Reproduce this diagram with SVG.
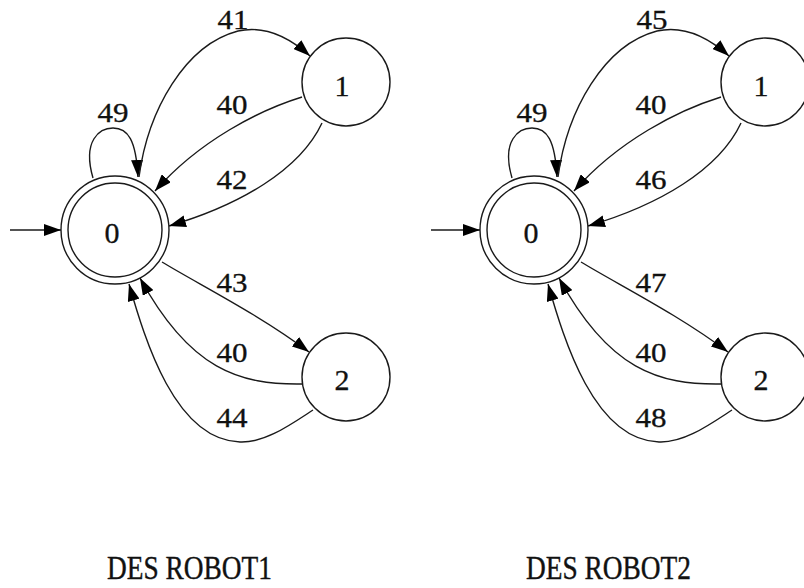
<svg xmlns="http://www.w3.org/2000/svg" width="804" height="588" viewBox="0 0 804 588">
<style>
.edge{fill:none;stroke:#1a1a1a;stroke-width:1.4;marker-end:url(#arr)}
.node{fill:none;stroke:#1a1a1a;stroke-width:1.4}
.lbl{font-family:"Liberation Serif","Times New Roman",serif;font-size:27px;fill:#111;stroke:#111;stroke-width:0.3;text-anchor:middle}
.nlbl{font-family:"Liberation Serif","Times New Roman",serif;font-size:30px;fill:#111;stroke:#111;stroke-width:0.3;text-anchor:middle}
.title{font-family:"Liberation Serif","Times New Roman",serif;font-size:33px;fill:#111;stroke:#111;stroke-width:0.4}
</style>
<defs>
<marker id="arr" markerUnits="userSpaceOnUse" markerWidth="17" markerHeight="12" refX="17" refY="6" orient="auto">
<path d="M0,0 L17,6 L0,12 z" fill="#000"/>
</marker>
</defs>
<rect width="804" height="588" fill="#fff"/>

<g id="robot1">
  <g id="connectors1">
    <path class="edge" d="M10,230 L61,230"/>
    <path class="edge" d="M93,178 C82,140 100,128 113,128 C128,128 136,140 138,177"/>
    <path class="edge" d="M139,177 C148,110 185,45 238,31 C265,25 290,38 310,56"/>
    <path class="edge" d="M302,97 C260,110 200,140 155,191"/>
    <path class="edge" d="M322,123 C300,170 240,205 169,226"/>
    <path class="edge" d="M162,262 C200,285 260,315 309,352"/>
    <path class="edge" d="M302,384 C240,385 190,370 140,278"/>
    <path class="edge" d="M313,410 C290,425 265,443 240,442 C175,440 145,340 129,284"/>
    <text class="lbl" x="233" y="29" textLength="31" lengthAdjust="spacingAndGlyphs">41</text>
    <text class="lbl" x="113" y="122" textLength="31" lengthAdjust="spacingAndGlyphs">49</text>
    <text class="lbl" x="232" y="114" textLength="31" lengthAdjust="spacingAndGlyphs">40</text>
    <text class="lbl" x="232" y="189" textLength="31" lengthAdjust="spacingAndGlyphs">42</text>
    <text class="lbl" x="232" y="292" textLength="31" lengthAdjust="spacingAndGlyphs">43</text>
    <text class="lbl" x="232" y="362" textLength="31" lengthAdjust="spacingAndGlyphs">40</text>
    <text class="lbl" x="232" y="427" textLength="31" lengthAdjust="spacingAndGlyphs">44</text>
  </g>
  <g id="r1-node0">
    <circle class="node" cx="115" cy="230" r="54"/>
    <circle class="node" cx="115" cy="230" r="47"/>
    <text class="nlbl" x="112" y="243">0</text>
  </g>
  <g id="r1-node1">
    <circle class="node" cx="346" cy="82" r="44"/>
    <text class="nlbl" x="342" y="96">1</text>
  </g>
  <g id="r1-node2">
    <circle class="node" cx="346" cy="377" r="44"/>
    <text class="nlbl" x="342" y="390">2</text>
  </g>
  <text class="title" x="107" y="579" textLength="165" lengthAdjust="spacingAndGlyphs">DES ROBOT1</text>
</g>

<g id="robot2" transform="translate(419,0)">
  <g id="connectors2">
    <path class="edge" d="M12,230 L61,230"/>
    <path class="edge" d="M93,178 C82,140 100,128 113,128 C128,128 136,140 138,177"/>
    <path class="edge" d="M139,177 C148,110 185,45 238,31 C265,25 290,38 310,56"/>
    <path class="edge" d="M302,97 C260,110 200,140 155,191"/>
    <path class="edge" d="M322,123 C300,170 240,205 169,226"/>
    <path class="edge" d="M162,262 C200,285 260,315 309,352"/>
    <path class="edge" d="M302,384 C240,385 190,370 140,278"/>
    <path class="edge" d="M313,410 C290,425 265,443 240,442 C175,440 145,340 129,284"/>
    <text class="lbl" x="233" y="29" textLength="31" lengthAdjust="spacingAndGlyphs">45</text>
    <text class="lbl" x="113" y="122" textLength="31" lengthAdjust="spacingAndGlyphs">49</text>
    <text class="lbl" x="232" y="114" textLength="31" lengthAdjust="spacingAndGlyphs">40</text>
    <text class="lbl" x="232" y="189" textLength="31" lengthAdjust="spacingAndGlyphs">46</text>
    <text class="lbl" x="232" y="292" textLength="31" lengthAdjust="spacingAndGlyphs">47</text>
    <text class="lbl" x="232" y="362" textLength="31" lengthAdjust="spacingAndGlyphs">40</text>
    <text class="lbl" x="232" y="427" textLength="31" lengthAdjust="spacingAndGlyphs">48</text>
  </g>
  <g id="r2-node0">
    <circle class="node" cx="115" cy="230" r="54"/>
    <circle class="node" cx="115" cy="230" r="47"/>
    <text class="nlbl" x="112" y="243">0</text>
  </g>
  <g id="r2-node1">
    <circle class="node" cx="346" cy="82" r="44"/>
    <text class="nlbl" x="342" y="96">1</text>
  </g>
  <g id="r2-node2">
    <circle class="node" cx="346" cy="377" r="44"/>
    <text class="nlbl" x="342" y="390">2</text>
  </g>
  <text class="title" x="107" y="579" textLength="165" lengthAdjust="spacingAndGlyphs">DES ROBOT2</text>
</g>
</svg>
